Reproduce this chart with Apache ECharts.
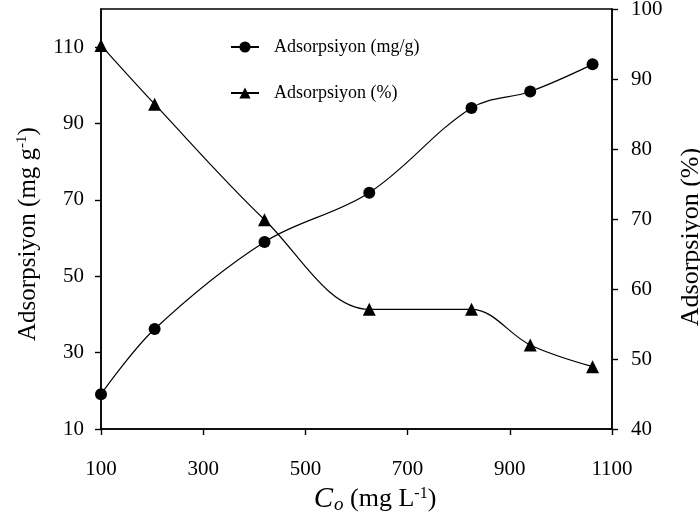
<!DOCTYPE html>
<html>
<head>
<meta charset="utf-8">
<script src="https://cdn.jsdelivr.net/npm/echarts@6/dist/echarts.min.js"></script>
<style>
  html, body { margin: 0; padding: 0; background: #fff; }
  #chart { width: 700px; height: 519px; }
</style>
</head>
<body>
<div id="chart"></div>
<script>
// concentration C_o (mg/L)
const concentrations = [100, 205, 420, 625, 825, 940, 1062];
// adsorption capacity (mg/g) - left axis
const adsorptionMg = [19.1, 36.2, 59.0, 71.9, 94.1, 98.4, 105.5];
// adsorption percentage (%) - right axis
const adsorptionPct = [94.8, 86.4, 69.9, 57.1, 57.1, 52.0, 48.9];
const leftTicks = [10, 30, 50, 70, 90, 110];

const serif = 'Liberation Serif';
const chart = echarts.init(document.getElementById('chart'));

const axisCommon = {
  axisLine: { show: true, lineStyle: { color: '#000', width: 1.6 } },
  axisTick: { show: true, inside: false, length: 6, lineStyle: { color: '#000', width: 1.4 } },
  splitLine: { show: false },
  axisLabel: { color: '#000', fontFamily: serif, fontSize: 21, formatter: v => String(v) }
};

chart.setOption({
  animation: false,
  backgroundColor: '#fff',
  grid: {
    left: 101, right: 88, top: 9, bottom: 90,
    outerBoundsMode: 'none',
    containLabel: false,
    show: true, borderColor: '#000', borderWidth: 1.4
  },
  legend: {
    orient: 'vertical',
    left: 225,
    top: 33,
    itemWidth: 28,
    itemHeight: 14,
    itemGap: 28,
    textStyle: { color: '#000', fontFamily: serif, fontSize: 18, padding: [0, 0, 0, 10] },
    data: ['Adsorpsiyon (mg/g)', 'Adsorpsiyon (%)']
  },
  xAxis: {
    type: 'value',
    min: 100, max: 1100, interval: 200,
    ...axisCommon,
    axisLabel: { ...axisCommon.axisLabel, margin: 30 },
    name: '{i|C}{sub|o}{a| (mg L}{sup|-1}{a|)}',
    nameLocation: 'middle',
    nameGap: 54,
    nameTextStyle: {
      color: '#000', fontFamily: serif, fontSize: 26,
      padding: [0, 0, 0, 37],
      rich: {
        i: { fontFamily: serif, fontSize: 29, fontStyle: 'italic', color: '#000' },
        sub: { fontFamily: serif, fontSize: 19, fontStyle: 'italic', color: '#000', padding: [12, 0, 0, 1] },
        a: { fontFamily: serif, fontSize: 26, color: '#000' },
        sup: { fontFamily: serif, fontSize: 16, color: '#000', padding: [0, 0, 12, 0] }
      }
    }
  },
  yAxis: [
    {
      type: 'value',
      position: 'left',
      min: 10, max: 120,
      ...axisCommon,
      axisTick: { ...axisCommon.axisTick, customValues: leftTicks },
      axisLabel: { ...axisCommon.axisLabel, margin: 17, customValues: leftTicks },
      name: '{a|Adsorpsiyon (mg g}{sup|-1}{a|)}',
      nameLocation: 'middle',
      nameRotate: 90,
      nameGap: 59,
      nameTextStyle: {
        color: '#000', fontFamily: serif, fontSize: 25,
        padding: [0, 30, 0, 0],
        rich: {
          a: { fontFamily: serif, fontSize: 25, color: '#000' },
          sup: { fontFamily: serif, fontSize: 15, color: '#000', padding: [0, 0, 12, 0] }
        }
      }
    },
    {
      type: 'value',
      position: 'right',
      min: 40, max: 100, interval: 10,
      ...axisCommon,
      axisLabel: { ...axisCommon.axisLabel, margin: 19 },
      name: 'Adsorpsiyon (%)',
      nameLocation: 'middle',
      nameRotate: 90,
      nameGap: 66,
      nameTextStyle: { color: '#000', fontFamily: serif, fontSize: 26, padding: [0, 36, 0, 0] }
    }
  ],
  series: [
    {
      name: 'Adsorpsiyon (mg/g)',
      type: 'line',
      yAxisIndex: 0,
      smooth: 0.35,
      symbol: 'circle',
      symbolSize: 12,
      itemStyle: { color: '#000' },
      lineStyle: { color: '#000', width: 1.2 },
      data: concentrations.map((c, i) => [c, adsorptionMg[i]])
    },
    {
      name: 'Adsorpsiyon (%)',
      type: 'line',
      yAxisIndex: 1,
      smooth: 0.35,
      symbol: 'triangle',
      symbolSize: 13,
      itemStyle: { color: '#000' },
      lineStyle: { color: '#000', width: 1.2 },
      data: concentrations.map((c, i) => [c, adsorptionPct[i]])
    }
  ]
});
</script>
</body>
</html>
